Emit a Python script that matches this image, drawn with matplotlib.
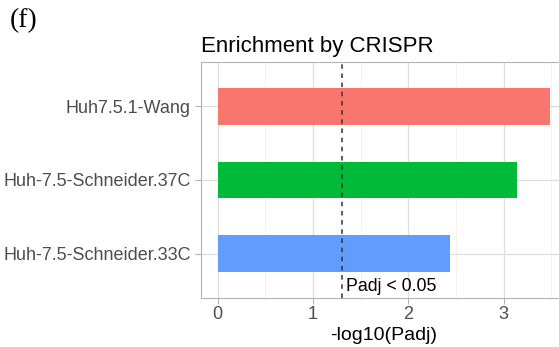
import numpy as np
import matplotlib
matplotlib.use("Agg")
from matplotlib import pyplot as plt

## data
labels = ["Huh-7.5-Schneider.33C", "Huh-7.5-Schneider.37C", "Huh7.5.1-Wang"]
values = [2.44, 3.135, 3.49]
colors = ["#619CFF", "#00BA38", "#F8766D"]
cutoff = -np.log10(0.05)

plt.rcParams['font.family'] = ['Liberation Sans', 'DejaVu Sans']

fig = plt.figure(figsize=(5.59, 3.47), dpi=100)
ax = fig.add_axes([201 / 559, 1 - 298 / 347, 366 / 559, 236 / 347])

pos = np.arange(1, len(labels) + 1)
ax.barh(pos, values, height=0.5, color=colors, zorder=2)
ax.axvline(cutoff, color="#333333", linestyle=(0, (3, 3)), linewidth=1.1, zorder=3)
ax.text(cutoff + 0.05, 0.56, "Padj < 0.05", fontsize=12.8, va="center", ha="left")

# ggplot style expansion
xmax = max(values)
ax.set_xlim(-0.05 * xmax, xmax * 1.05)
ax.set_ylim(0.4, len(labels) + 0.6)
ax.set_yticks(pos)
ax.set_yticklabels(labels)
ax.set_xticks([0, 1, 2, 3])
ax.set_xticks([0.5, 1.5, 2.5, 3.5], minor=True)

ax.grid(True, which="major", color="#DEDEDE", linewidth=0.9, zorder=0)
ax.grid(True, which="minor", axis="x", color="#EEEEEE", linewidth=0.5, zorder=0)
ax.set_axisbelow(True)
for s in ax.spines.values():
    s.set_color("#B3B3B3")
    s.set_linewidth(0.8)
ax.tick_params(axis="both", which="major", colors="#B3B3B3", labelcolor="#4D4D4D",
               length=4, width=0.8)
ax.tick_params(axis="y", labelsize=13)
ax.tick_params(axis="x", labelsize=13, pad=2)
ax.tick_params(axis="both", which="minor", length=0)

ax.set_xlabel("-log10(Padj)", fontsize=14, labelpad=3)
ax.set_title("Enrichment by CRISPR", fontsize=16, loc="left", pad=7)

fig.text(10 / 559, 1 - 21 / 347, "(f)", fontsize=20, family="Liberation Serif", va="center")

fig.savefig("out.png", dpi=100)
